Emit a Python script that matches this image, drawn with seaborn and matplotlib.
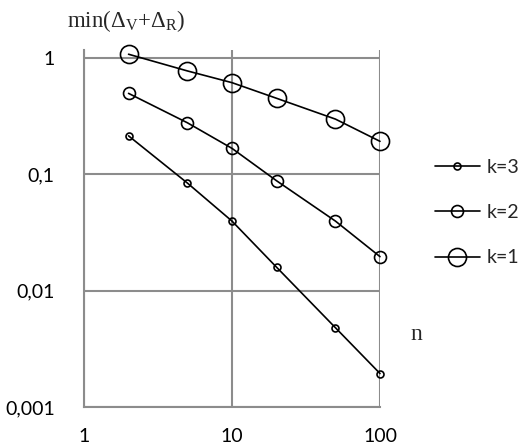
import numpy as np
import matplotlib
matplotlib.use('Agg')
import matplotlib.pyplot as plt
import pandas as pd
import seaborn as sns

# values
n_values = [2, 5, 10, 20, 50, 100]
k3 = [0.214, 0.084, 0.0396, 0.0159, 0.0048, 0.00194]
k2 = [0.496, 0.277, 0.167, 0.088, 0.0396, 0.0196]
k1 = [1.076, 0.773, 0.613, 0.45, 0.298, 0.192]
series_labels = ['k=3', 'k=2', 'k=1']
y_ticks = [0.001, 0.01, 0.1, 1]
y_ticklabels = ['0,001', '0,01', '0,1', '1']
x_ticks = [1, 10, 100]
x_ticklabels = ['1', '10', '100']

sns.set_style('white')
plt.rcParams['font.family'] = ['Lato', 'DejaVu Sans']
plt.rcParams['mathtext.fontset'] = 'custom'
plt.rcParams['mathtext.rm'] = 'Liberation Serif'
plt.rcParams['mathtext.it'] = 'Liberation Serif:italic'

fig = plt.figure(figsize=(5.21, 4.48), dpi=100)
ax = fig.add_axes([84 / 521, 1 - 407 / 448, (380 - 84) / 521, (407 - 50) / 448])
ax.set_xscale('log')
ax.set_yscale('log')

marker_sizes = [5, 8.6, 13]
for vals, lab, ms in zip([k3, k2, k1], series_labels, marker_sizes):
    df = pd.DataFrame({'n': n_values, 'v': vals})
    sns.lineplot(data=df, x='n', y='v', ax=ax, color='black', linewidth=1.2,
                 marker='o', markersize=ms, markerfacecolor='none',
                 markeredgecolor='black', markeredgewidth=1.2, label=lab,
                 clip_on=False, zorder=3)

ax.set_xlim(1, 100)
ax.set_ylim(0.001, 1.17)
ax.set_xticks(x_ticks)
ax.set_xticklabels(x_ticklabels)
ax.set_yticks(y_ticks)
ax.set_yticklabels(y_ticklabels)
ax.minorticks_off()
ax.tick_params(axis='both', length=0, labelsize=14, colors='black')
ax.tick_params(axis='x', pad=15)
ax.tick_params(axis='y', pad=21)
ax.grid(True, color='#8c8c8c', linewidth=1.5)
for side in ['top', 'right']:
    ax.spines[side].set_visible(False)
for side in ['left', 'bottom']:
    ax.spines[side].set_color('#8c8c8c')
    ax.spines[side].set_linewidth(1.5)
ax.set_xlabel('')
ax.set_ylabel('')

leg = ax.legend(loc='upper left', bbox_to_anchor=(435 / 521, 1 - 159 / 448),
                bbox_transform=fig.transFigure, frameon=False, fontsize=14,
                borderpad=0, borderaxespad=0,
                handlelength=2.3, handletextpad=0.35, labelspacing=1.45)

fig.text(67 / 521, 1 - 21 / 448, r'min($\Delta_{\mathrm{V}}$+$\Delta_{\mathrm{R}}$)',
         family='Liberation Serif', fontsize=16.5, va='center', ha='left')
fig.text(410 / 521, 1 - 335 / 448, 'n', family='Liberation Serif', fontsize=17,
         va='center', ha='left')

fig.savefig('out.png', dpi=100)
